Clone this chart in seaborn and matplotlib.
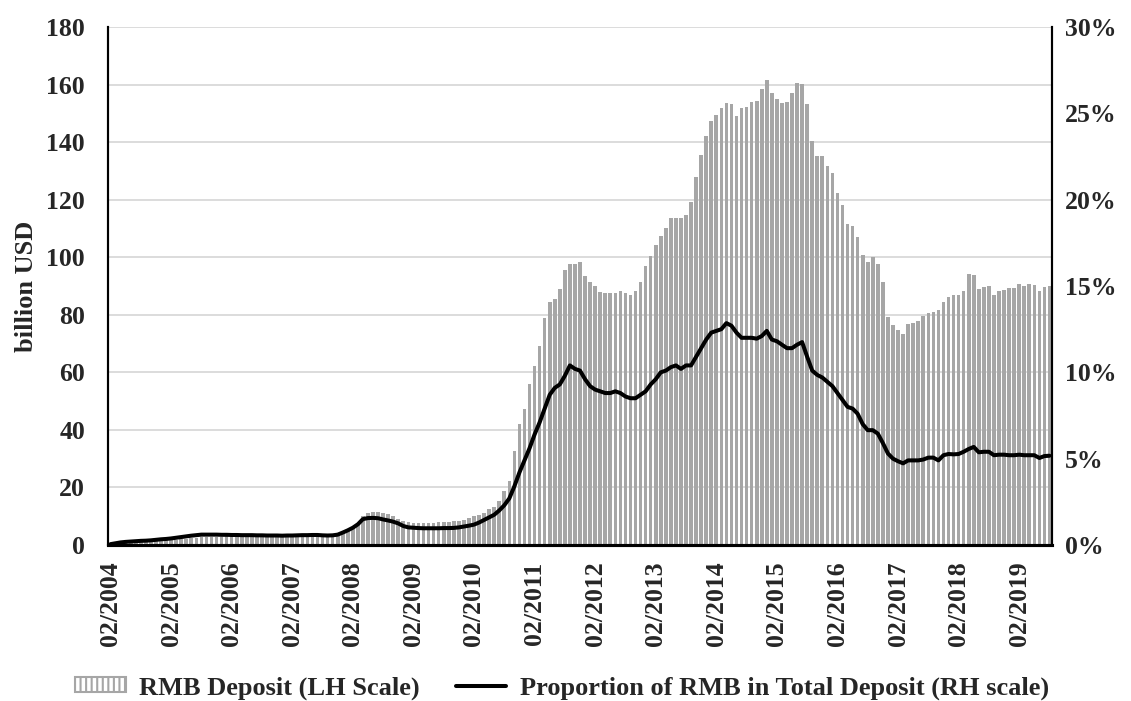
import numpy as np
import pandas as pd
import matplotlib
matplotlib.use("Agg")
import matplotlib.pyplot as plt
import seaborn as sns
from matplotlib.patches import Patch
from matplotlib.lines import Line2D

# RMB deposits in billion USD, one value per month, starting 02/2004
dep_2004 = [0.1, 0.3, 0.5, 0.6, 0.7, 0.8, 0.9, 1.0, 1.2, 1.3, 1.5]
dep_2005 = [1.6, 1.7, 1.9, 2.0, 2.2, 2.4, 2.6, 2.8, 2.9, 2.9, 2.9, 2.9]
dep_2006 = [3.0, 3.0, 3.0, 2.9, 2.9, 2.9, 2.9, 2.9, 2.9, 2.9, 2.9, 3.0]
dep_2007 = [3.0, 3.0, 3.0, 3.0, 3.0, 3.1, 3.1, 3.2, 3.3, 3.4, 3.5, 4.6]
dep_2008 = [5.4, 6.4, 7.6, 10.1, 11.2, 11.4, 11.3, 11.2, 10.9, 10.0, 9.2, 8.2]
dep_2009 = [7.9, 7.8, 7.7, 7.7, 7.8, 7.8, 7.9, 8.0, 8.1, 8.2, 8.4, 8.6]
dep_2010 = [9.4, 10.0, 10.4, 11.1, 12.4, 13.2, 15.3, 18.9, 22.3, 32.6, 42.0, 47.4]
dep_2011 = [56.0, 62.2, 69.0, 79.0, 84.6, 85.4, 88.9, 95.4, 97.6, 97.6, 98.2, 93.5]
dep_2012 = [91.4, 90.1, 87.9, 87.6, 87.4, 87.6, 88.3, 87.5, 86.7, 88.2, 91.4, 97.0]
dep_2013 = [100.3, 104.4, 107.5, 110.0, 113.7, 113.7, 113.6, 114.8, 119.3, 127.9, 135.5, 142.1]
dep_2014 = [147.3, 149.4, 151.7, 153.5, 153.2, 149.0, 151.7, 152.3, 153.8, 154.3, 158.3, 161.6]
dep_2015 = [157.0, 154.9, 153.5, 154.0, 157.0, 160.4, 160.2, 153.4, 140.4, 135.2, 135.2, 131.7]
dep_2016 = [129.2, 122.4, 118.0, 111.5, 111.0, 106.9, 100.7, 98.2, 100.0, 97.8, 91.4, 79.2]
dep_2017 = [76.3, 74.6, 73.4, 76.8, 77.1, 77.7, 79.6, 80.5, 80.8, 81.5, 84.6, 86.2]
dep_2018 = [87.0, 87.0, 88.3, 94.1, 93.9, 88.9, 89.5, 90.1, 87.0, 88.3, 88.7, 89.2]
dep_2019 = [89.2, 90.8, 90.1, 90.8, 90.4, 88.3, 89.5, 90.1]

# share of RMB in total deposits (%), same months
shr_2004 = [0.05, 0.1, 0.15, 0.18, 0.2, 0.22, 0.24, 0.25, 0.27, 0.3, 0.33]
shr_2005 = [0.35, 0.38, 0.42, 0.46, 0.5, 0.54, 0.57, 0.6, 0.6, 0.6, 0.6, 0.59]
shr_2006 = [0.59, 0.58, 0.58, 0.57, 0.57, 0.57, 0.56, 0.56, 0.55, 0.55, 0.55, 0.54]
shr_2007 = [0.55, 0.55, 0.56, 0.57, 0.57, 0.58, 0.58, 0.56, 0.55, 0.56, 0.6, 0.72]
shr_2008 = [0.85, 1.0, 1.2, 1.5, 1.56, 1.57, 1.55, 1.48, 1.42, 1.35, 1.25, 1.1]
shr_2009 = [1.02, 1.0, 0.98, 0.97, 0.97, 0.97, 0.97, 0.98, 0.98, 0.99, 1.02, 1.07]
shr_2010 = [1.12, 1.18, 1.3, 1.45, 1.6, 1.75, 2.0, 2.3, 2.7, 3.4, 4.2, 4.9]
shr_2011 = [5.6, 6.4, 7.1, 7.9, 8.7, 9.1, 9.3, 9.8, 10.4, 10.2, 10.1, 9.6]
shr_2012 = [9.2, 9.0, 8.9, 8.8, 8.8, 8.9, 8.8, 8.6, 8.5, 8.5, 8.7, 8.9]
shr_2013 = [9.3, 9.6, 10.0, 10.1, 10.3, 10.4, 10.2, 10.4, 10.4, 10.9, 11.4, 11.9]
shr_2014 = [12.3, 12.4, 12.5, 12.85, 12.7, 12.3, 12.0, 12.0, 12.0, 11.95, 12.1, 12.4]
shr_2015 = [11.9, 11.8, 11.6, 11.4, 11.4, 11.6, 11.75, 10.9, 10.1, 9.85, 9.7, 9.45]
shr_2016 = [9.2, 8.8, 8.4, 8.0, 7.9, 7.6, 7.0, 6.65, 6.65, 6.45, 5.9, 5.3]
shr_2017 = [5.0, 4.85, 4.73, 4.9, 4.9, 4.9, 4.95, 5.06, 5.06, 4.9, 5.2, 5.27]
shr_2018 = [5.25, 5.27, 5.4, 5.56, 5.68, 5.37, 5.4, 5.4, 5.2, 5.23, 5.23, 5.2]
shr_2019 = [5.2, 5.23, 5.2, 5.2, 5.2, 5.04, 5.15, 5.17]

deposit = (dep_2004 + dep_2005 + dep_2006 + dep_2007 + dep_2008 + dep_2009 + dep_2010 + dep_2011
           + dep_2012 + dep_2013 + dep_2014 + dep_2015 + dep_2016 + dep_2017 + dep_2018 + dep_2019)
share = (shr_2004 + shr_2005 + shr_2006 + shr_2007 + shr_2008 + shr_2009 + shr_2010 + shr_2011
         + shr_2012 + shr_2013 + shr_2014 + shr_2015 + shr_2016 + shr_2017 + shr_2018 + shr_2019)

months = pd.date_range("2004-02-01", periods=len(deposit), freq="MS").strftime("%m/%Y")
df = pd.DataFrame({"month": months, "pos": np.arange(len(deposit)),
                   "deposit": deposit, "share": share})

sns.set_style("white")
plt.rcParams["font.family"] = ["Liberation Serif", "DejaVu Serif"]
plt.rcParams["font.weight"] = "bold"
plt.rcParams["hatch.linewidth"] = 1.5

fig = plt.figure(figsize=(11.31, 7.01), dpi=100)
ax = fig.add_axes([108 / 1131, 1 - 545 / 701, (1052 - 108) / 1131, (545 - 27) / 701])

bar_grey = "#A6A6A6"
sns.barplot(data=df, x="month", y="deposit", color=bar_grey, width=0.72,
            saturation=1, edgecolor="none", ax=ax)
ax.set_ylim(0, 180)
ax.set_yticks(range(0, 181, 20))
ax.set_axisbelow(True)
ax.yaxis.grid(True, color="#D9D9D9", lw=1.3)
ax.xaxis.grid(False)
ax.set_xticks(range(0, len(months), 12))
ax.set_xticklabels(months[::12], rotation=90, fontsize=18.5, fontweight="bold")
ax.tick_params(axis="x", length=0, pad=12)
ax.tick_params(axis="y", length=0, pad=16.5, labelsize=18.5)
ax.set_xlabel("")
ax.set_ylabel("billion USD", fontsize=19, fontweight="bold", labelpad=6)

ax2 = ax.twinx()
sns.lineplot(data=df, x="pos", y="share", color="black", lw=2.9, ax=ax2)
ax2.set_ylim(0, 30)
ax2.set_yticks(range(0, 31, 5))
ax2.set_yticklabels([f"{v}%" for v in range(0, 31, 5)], fontsize=18.5, fontweight="bold")
ax2.tick_params(axis="y", length=0, pad=9.5)
ax2.set_ylabel("")
ax2.set_xlim(-0.5, len(months) - 0.5)

for a in (ax, ax2):
    a.spines["top"].set_visible(False)
    a.spines["left"].set_color("black")
    a.spines["right"].set_color("black")
    a.spines["left"].set_linewidth(1.5)
    a.spines["right"].set_linewidth(1.5)
    a.spines["bottom"].set_color("black")
    a.spines["bottom"].set_linewidth(2.2)

handles = [Patch(facecolor="white", edgecolor=bar_grey, hatch="|||", lw=1.5),
           Line2D([], [], color="black", lw=2.9)]
labels = ["RMB Deposit (LH Scale)", "Proportion of RMB in Total Deposit (RH scale)"]
fig.legend(handles, labels, loc="center", bbox_to_anchor=(0.497, 1 - 688 / 701), ncol=2,
           frameon=False, prop={"size": 19, "weight": "bold"}, handlelength=1.9,
           handleheight=0.5, handletextpad=0.5, columnspacing=1.4)

fig.savefig("out.png", dpi=100)
